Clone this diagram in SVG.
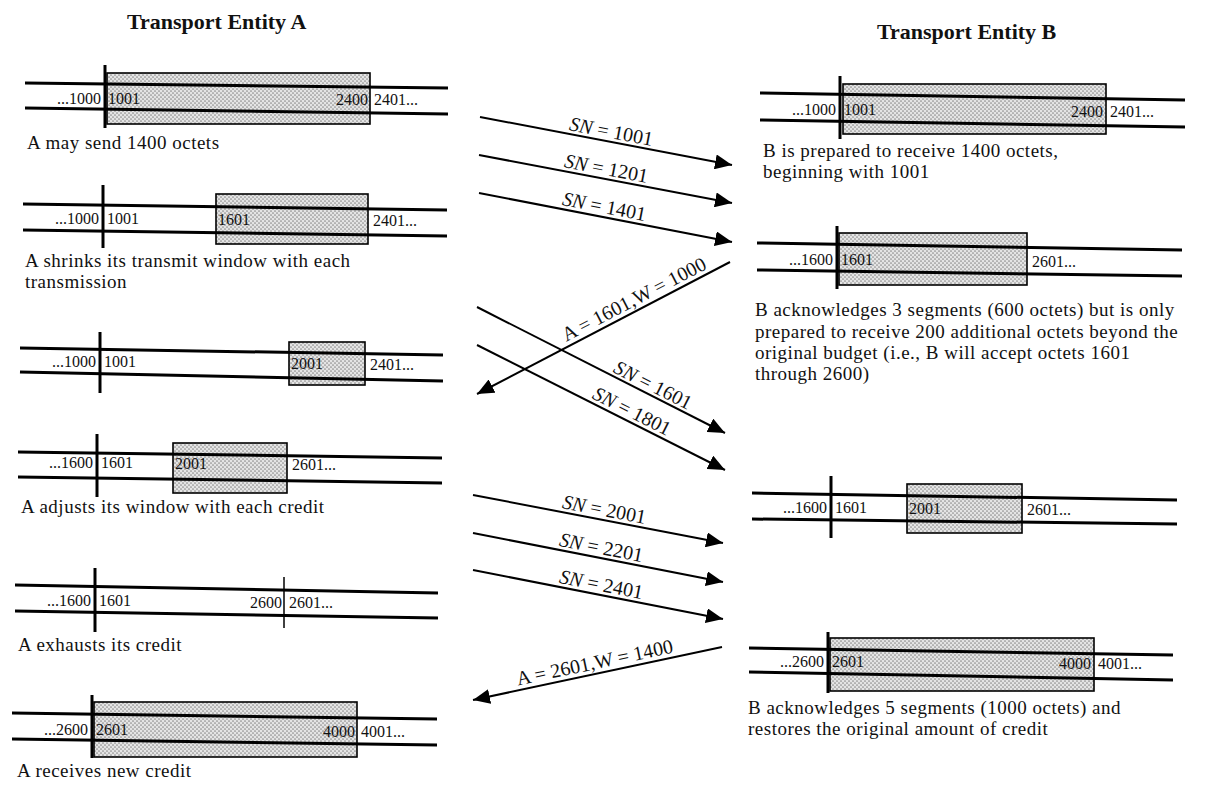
<svg xmlns="http://www.w3.org/2000/svg" width="1211" height="787" viewBox="0 0 1211 787">
<style>
text{font-family:"Liberation Serif","Times New Roman",serif;fill:#111}
.title{font-size:22px;font-weight:bold}
.cap{font-size:19px;letter-spacing:0.5px}
.lbl{font-size:16px}
.sn{font-size:20px}
.tape{stroke:#000;stroke-width:3;fill:none}
.bar{stroke:#000;stroke-width:3}
.bar2{stroke:#000;stroke-width:1.5}
.win{fill:url(#dots);stroke:#000;stroke-width:1.6}
.arr{stroke:#000;stroke-width:2;fill:none;marker-end:url(#ah)}
</style>
<defs>
<pattern id="dots" width="4" height="4" patternUnits="userSpaceOnUse">
<rect width="4" height="4" fill="#e4e4e4"/>
<circle cx="1" cy="1" r="0.85" fill="#8c8c8c"/>
<circle cx="3" cy="3" r="0.85" fill="#8c8c8c"/>
</pattern>
<marker id="ah" markerUnits="userSpaceOnUse" markerWidth="18" markerHeight="15" refX="17" refY="7.5" orient="auto">
<path d="M0,0 L17,7.5 L0,15 z" fill="#000"/>
</marker>
</defs>
<rect width="1211" height="787" fill="#fff"/>

<text class="title" x="127" y="29">Transport Entity A</text>
<text class="title" x="877" y="39">Transport Entity B</text>

<g id="a1">
<rect class="win" x="107" y="73" width="263" height="51"/>
<line class="tape" x1="25" y1="83" x2="448" y2="88"/>
<line class="tape" x1="25" y1="108" x2="448" y2="114"/>
<line class="bar" x1="105" y1="65" x2="105" y2="128"/>
<text class="lbl" x="101" y="104" text-anchor="end">...1000</text>
<text class="lbl" x="108" y="104">1001</text>
<text class="lbl" x="368" y="105" text-anchor="end">2400</text>
<text class="lbl" x="374" y="105">2401...</text>
<text class="cap" x="27" y="149">A may send 1400 octets</text>
</g>

<g id="a2">
<rect class="win" x="216" y="194" width="152" height="50"/>
<line class="tape" x1="23" y1="204" x2="447" y2="210"/>
<line class="tape" x1="23" y1="230" x2="447" y2="236"/>
<line class="bar" x1="103" y1="185" x2="103" y2="248"/>
<text class="lbl" x="99" y="224" text-anchor="end">...1000</text>
<text class="lbl" x="107" y="224">1001</text>
<text class="lbl" x="218" y="225">1601</text>
<text class="lbl" x="373" y="226">2401...</text>
<text class="cap" x="25" y="267">A shrinks its transmit window with each</text>
<text class="cap" x="25" y="288">transmission</text>
</g>

<g id="a3">
<rect class="win" x="289" y="342" width="76" height="43"/>
<line class="tape" x1="20" y1="348" x2="443" y2="355"/>
<line class="tape" x1="20" y1="372" x2="443" y2="381"/>
<line class="bar" x1="100" y1="332" x2="100" y2="393"/>
<text class="lbl" x="96" y="367" text-anchor="end">...1000</text>
<text class="lbl" x="104" y="367">1001</text>
<text class="lbl" x="291" y="369">2001</text>
<text class="lbl" x="370" y="370">2401...</text>
</g>

<g id="a4">
<rect class="win" x="173" y="443" width="114" height="50"/>
<line class="tape" x1="18" y1="452" x2="442" y2="458"/>
<line class="tape" x1="18" y1="477" x2="442" y2="483"/>
<line class="bar" x1="97" y1="434" x2="97" y2="497"/>
<text class="lbl" x="93" y="468" text-anchor="end">...1600</text>
<text class="lbl" x="101" y="468">1601</text>
<text class="lbl" x="175" y="469">2001</text>
<text class="lbl" x="292" y="470">2601...</text>
<text class="cap" x="21" y="513">A adjusts its window with each credit</text>
</g>

<g id="a5">
<line class="tape" x1="15" y1="585" x2="438" y2="593"/>
<line class="tape" x1="15" y1="611" x2="438" y2="618"/>
<line class="bar" x1="95" y1="568" x2="95" y2="632"/>
<line class="bar2" x1="284" y1="577" x2="284" y2="628"/>
<text class="lbl" x="91" y="606" text-anchor="end">...1600</text>
<text class="lbl" x="99" y="606">1601</text>
<text class="lbl" x="282" y="608" text-anchor="end">2600</text>
<text class="lbl" x="289" y="608">2601...</text>
<text class="cap" x="18" y="651">A exhausts its credit</text>
</g>

<g id="a6">
<rect class="win" x="94" y="702" width="263" height="55"/>
<line class="tape" x1="12" y1="713" x2="437" y2="719"/>
<line class="tape" x1="12" y1="739" x2="437" y2="745"/>
<line class="bar" x1="92" y1="695" x2="92" y2="758"/>
<text class="lbl" x="88" y="735" text-anchor="end">...2600</text>
<text class="lbl" x="96" y="735">2601</text>
<text class="lbl" x="355" y="737" text-anchor="end">4000</text>
<text class="lbl" x="361" y="737">4001...</text>
<text class="cap" x="17" y="777">A receives new credit</text>
</g>

<g id="b1">
<rect class="win" x="843" y="84" width="263" height="50"/>
<line class="tape" x1="760" y1="93" x2="1185" y2="100"/>
<line class="tape" x1="760" y1="120" x2="1185" y2="127"/>
<line class="bar" x1="840" y1="76" x2="840" y2="139"/>
<text class="lbl" x="836" y="115" text-anchor="end">...1000</text>
<text class="lbl" x="844" y="115">1001</text>
<text class="lbl" x="1103" y="117" text-anchor="end">2400</text>
<text class="lbl" x="1110" y="117">2401...</text>
<text class="cap" x="763" y="157">B is prepared to receive 1400 octets,</text>
<text class="cap" x="763" y="178">beginning with 1001</text>
</g>

<g id="b2">
<rect class="win" x="839" y="233" width="188" height="52"/>
<line class="tape" x1="757" y1="243" x2="1182" y2="250"/>
<line class="tape" x1="757" y1="270" x2="1182" y2="276"/>
<line class="bar" x1="837" y1="226" x2="837" y2="289"/>
<text class="lbl" x="833" y="265" text-anchor="end">...1600</text>
<text class="lbl" x="841" y="265">1601</text>
<text class="lbl" x="1032" y="267">2601...</text>
<text class="cap" x="755" y="316">B acknowledges 3 segments (600 octets) but is only</text>
<text class="cap" x="755" y="338">prepared to receive 200 additional octets beyond the</text>
<text class="cap" x="755" y="359">original budget (i.e., B will accept octets 1601</text>
<text class="cap" x="755" y="380">through 2600)</text>
</g>

<g id="b3">
<rect class="win" x="907" y="484" width="115" height="49"/>
<line class="tape" x1="752" y1="493" x2="1177" y2="500"/>
<line class="tape" x1="752" y1="519" x2="1177" y2="524"/>
<line class="bar" x1="831" y1="476" x2="831" y2="538"/>
<text class="lbl" x="827" y="513" text-anchor="end">...1600</text>
<text class="lbl" x="835" y="513">1601</text>
<text class="lbl" x="909" y="514">2001</text>
<text class="lbl" x="1027" y="515">2601...</text>
</g>

<g id="b4">
<rect class="win" x="830" y="638" width="264" height="53"/>
<line class="tape" x1="749" y1="648" x2="1173" y2="655"/>
<line class="tape" x1="749" y1="672" x2="1173" y2="680"/>
<line class="bar" x1="828" y1="632" x2="828" y2="693"/>
<text class="lbl" x="824" y="667" text-anchor="end">...2600</text>
<text class="lbl" x="832" y="667">2601</text>
<text class="lbl" x="1091" y="669" text-anchor="end">4000</text>
<text class="lbl" x="1098" y="669">4001...</text>
<text class="cap" x="748" y="714">B acknowledges 5 segments (1000 octets) and</text>
<text class="cap" x="748" y="735">restores the original amount of credit</text>
</g>

<g id="connectors">
<line class="arr" x1="480" y1="117" x2="732" y2="165"/>
<line class="arr" x1="479" y1="155" x2="732" y2="203"/>
<line class="arr" x1="479" y1="193" x2="732" y2="242"/>
<line class="arr" x1="730" y1="262" x2="477" y2="394"/>
<line class="arr" x1="477" y1="307" x2="725" y2="433"/>
<line class="arr" x1="477" y1="345" x2="725" y2="470"/>
<line class="arr" x1="473" y1="495" x2="723" y2="543"/>
<line class="arr" x1="473" y1="533" x2="723" y2="582"/>
<line class="arr" x1="473" y1="570" x2="723" y2="619"/>
<line class="arr" x1="722" y1="647" x2="473" y2="700"/>
<text class="sn" text-anchor="middle" transform="translate(610,138) rotate(10.8)"><tspan font-style="italic">SN</tspan> = 1001</text>
<text class="sn" text-anchor="middle" transform="translate(605,175) rotate(10.8)"><tspan font-style="italic">SN</tspan> = 1201</text>
<text class="sn" text-anchor="middle" transform="translate(603,213) rotate(11)"><tspan font-style="italic">SN</tspan> = 1401</text>
<text class="sn" text-anchor="middle" transform="translate(637,305) rotate(-27.4)">A = 1601,W = 1000</text>
<text class="sn" text-anchor="middle" transform="translate(650,391) rotate(26.9)"><tspan font-style="italic">SN</tspan> = 1601</text>
<text class="sn" text-anchor="middle" transform="translate(629,417) rotate(26.75)"><tspan font-style="italic">SN</tspan> = 1801</text>
<text class="sn" text-anchor="middle" transform="translate(603,516) rotate(10.9)"><tspan font-style="italic">SN</tspan> = 2001</text>
<text class="sn" text-anchor="middle" transform="translate(600,554) rotate(11.1)"><tspan font-style="italic">SN</tspan> = 2201</text>
<text class="sn" text-anchor="middle" transform="translate(600,591) rotate(11.1)"><tspan font-style="italic">SN</tspan> = 2401</text>
<text class="sn" text-anchor="middle" transform="translate(596,669) rotate(-12)">A = 2601,W = 1400</text>
</g>
</svg>
